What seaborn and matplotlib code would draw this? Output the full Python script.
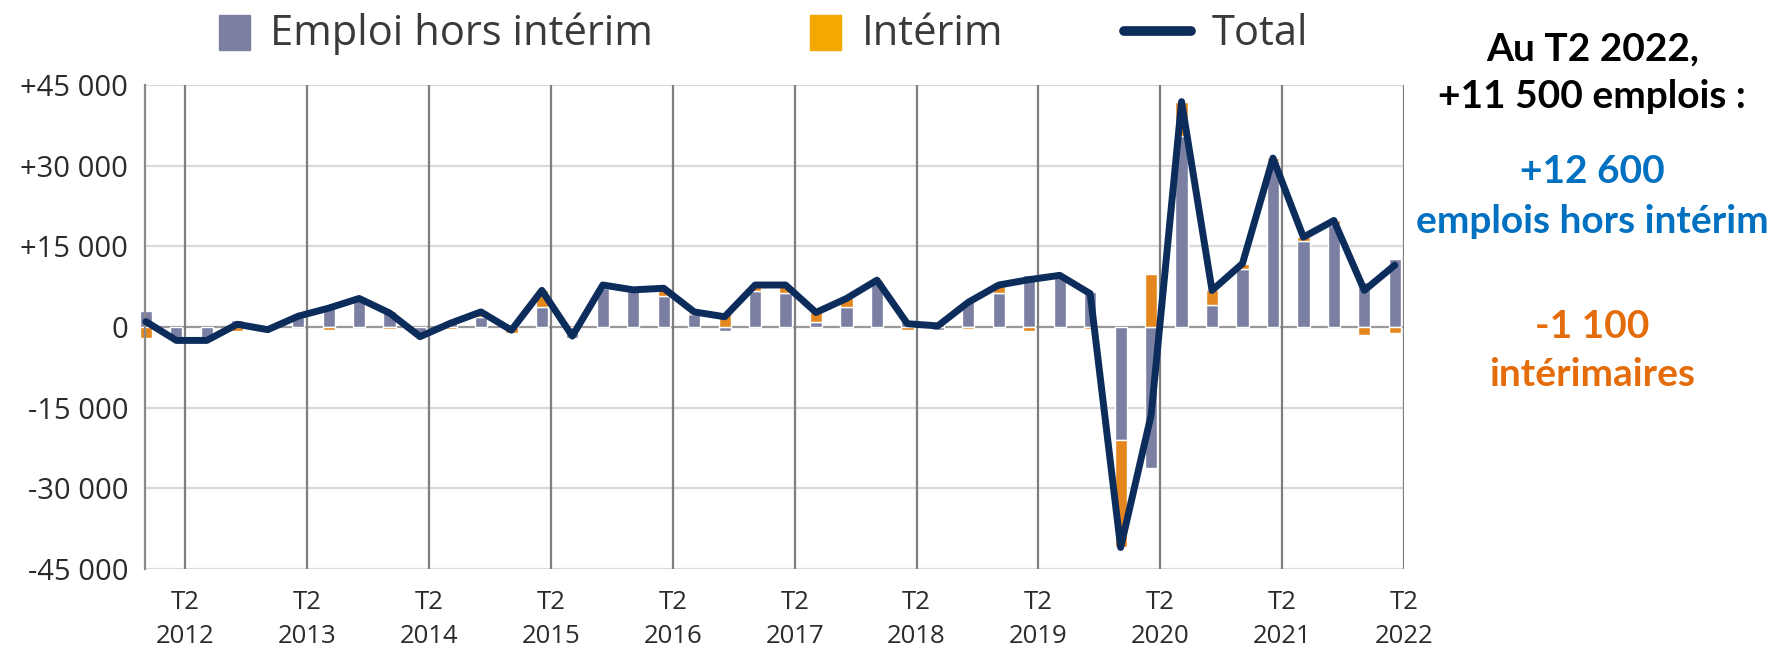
import matplotlib
matplotlib.use("Agg")
import matplotlib.pyplot as plt
import matplotlib.patches as mpatches
from matplotlib.lines import Line2D
from matplotlib.legend_handler import HandlerPatch
import seaborn as sns

# quarterly change in employment, T1 2012 -> T2 2022
quarters = [f"T{q} {y}" for y in range(2012, 2023) for q in range(1, 5)][:42]
idx = list(range(len(quarters)))

hors_interim = [3000, -2000, -2000, 1300, -800, 1800, 4000, 5200, 3000, -1500,
                1000, 1800, 500, 3700, -2000, 7300, 6700, 5700, 2500, -800,
                6600, 6300, 1000, 3800, 8100, 1200, -500, 4900, 6400, 9600,
                9500, 6500, -21000, -26200, 35600, 4000, 10700, 30800, 16000, 19000,
                8300, 12600]
interim = [-2000, -500, -500, -800, 300, 200, -500, 100, -400, -300,
           -300, 1000, -1100, 3100, 300, 500, 200, 1500, 300, 2700,
           1200, 1500, 1700, 1500, 600, -600, 700, -300, 1400, -800,
           100, -300, -20000, 9800, 6300, 2800, 1100, 600, 700, 800,
           -1500, -1100]
total = [1000, -2500, -2500, 500, -500, 2000, 3500, 5300, 2600, -1800,
         700, 2800, -600, 6800, -1700, 7800, 6900, 7200, 2800, 1900,
         7800, 7800, 2700, 5300, 8700, 600, 200, 4600, 7800, 8800,
         9600, 6200, -41000, -16400, 41900, 6800, 11800, 31400, 16700, 19800,
         6800, 11500]

tick_labels = [f"T2\n{y}" for y in range(2012, 2023)]
y_ticks = [45000, 30000, 15000, 0, -15000, -30000, -45000]
y_labels = ["+45 000", "+30 000", "+15 000", "0", "-15 000", "-30 000", "-45 000"]

gray = "#7b80a3"
orange = "#e5871f"
orange_leg = "#f5a800"
navy = "#0c2d5c"

sns.set_style("white")
plt.rcParams["font.family"] = ["Open Sans", "DejaVu Sans"]

fig = plt.figure(figsize=(17.83, 6.51), dpi=100)
ax = fig.add_axes([0.0813, 0.126, 0.7061, 0.7435])

# Excel-style stacking: same sign stacks, opposite sign starts at 0
bottoms = [h if (h >= 0) == (i >= 0) else 0 for h, i in zip(hors_interim, interim)]

sns.barplot(x=idx, y=hors_interim, native_scale=True, color=gray, width=0.4,
            saturation=1, ax=ax, zorder=2)
ax.bar(idx, interim, bottom=bottoms, width=0.4, color=orange, zorder=2)
for p in ax.patches:
    p.set_clip_on(False)

sns.lineplot(x=idx, y=total, color=navy, linewidth=5, ax=ax, zorder=3,
             solid_joinstyle="round", clip_on=False)

ax.set_xlim(-0.03, 41.3)
ax.set_ylim(-45000, 45000)
ax.set_yticks(y_ticks)
ax.set_yticklabels(y_labels)
ax.set_xticks([1.3 + 4 * k for k in range(11)])
ax.set_xticklabels(tick_labels, linespacing=1.5)

for y in y_ticks:
    ax.axhline(y, color="#d9d9d9" if y != 0 else "#999999", lw=1.6, zorder=1)
for k in range(11):
    ax.axvline(1.3 + 4 * k, color="#7f7f7f", lw=1.6, zorder=1)

for s in ["top", "right", "bottom"]:
    ax.spines[s].set_visible(False)
ax.spines["left"].set_color("#8a8a8a")
ax.spines["left"].set_linewidth(1.6)
ax.tick_params(axis="y", length=6, width=1.3, color="#8a8a8a", pad=6,
               labelsize=21, labelcolor="#2b2b2b")
ax.tick_params(axis="x", length=0, pad=15, labelsize=18.5, labelcolor="#2b2b2b")
ax.set_xlabel("")
ax.set_ylabel("")


def square(legend, orig_handle, xdescent, ydescent, width, height, fontsize):
    s = height * 1.2
    return mpatches.Rectangle((width - s * 0.88 - xdescent, -ydescent - 0.18 * height),
                              s * 0.88, s)


handles = [mpatches.Patch(color=gray, label="Emploi hors intérim"),
           mpatches.Patch(color=orange_leg, label="Intérim"),
           Line2D([], [], color=navy, lw=7, label="Total")]
fig.legend(handles=handles, loc="center", bbox_to_anchor=(0.418, 0.948), ncol=3,
           frameon=False, fontsize=30, handlelength=1.6, handletextpad=0.5,
           columnspacing=2.9, labelcolor="#3a3a3a",
           handler_map={mpatches.Patch: HandlerPatch(patch_func=square)})

side = dict(ha="center", va="center", fontsize=28, fontweight="bold",
            family=["Lato", "DejaVu Sans"])
fig.text(0.893, 0.925, "Au T2 2022,", color="black", **side)
fig.text(0.893, 0.851, "+11 500 emplois :", color="black", **side)
fig.text(0.893, 0.737, "+12 600", color="#0070c0", **side)
fig.text(0.893, 0.659, "emplois hors intérim", color="#0070c0", **side)
fig.text(0.893, 0.498, "-1 100", color="#e46c0a", **side)
fig.text(0.893, 0.424, "intérimaires", color="#e46c0a", **side)

fig.savefig("out.png", dpi=100)
